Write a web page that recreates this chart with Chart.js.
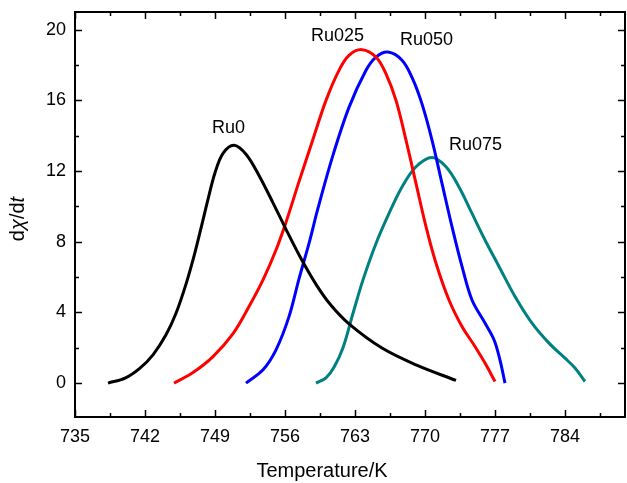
<!DOCTYPE html>
<html>
<head>
<meta charset="utf-8">
<script src="https://cdn.jsdelivr.net/npm/chart.js@4.4.0/dist/chart.umd.min.js"></script>
<style>
  html, body { margin: 0; padding: 0; background: #fff; }
  #wrap { width: 627px; height: 483px; }
</style>
</head>
<body>
<div id="wrap"><canvas id="dtgChart" width="627" height="483"></canvas></div>
<script>
// temperatures (K) and dχ/dt values
const ru0T = [738.3, 740, 741.5, 742.8, 744.1, 745.1, 746.1, 747, 747.7, 748.3, 749, 749.8, 750.9, 752.1, 753.4, 754.8, 756.1, 757.6, 759.2, 760.6, 762.4, 765.7, 769.1, 773.1];
const ru0V = [0, 0.28, 0.85, 1.6, 2.73, 3.95, 5.6, 7.4, 9.0, 10.4, 11.9, 13.0, 13.46, 12.95, 11.75, 10.2, 8.7, 7.05, 5.5, 4.4, 3.35, 1.98, 1.03, 0.15];

const ru025T = [744.9, 746.8, 748.8, 750.8, 752.4, 753.8, 755.1, 756.1, 757.4, 758.8, 760.1, 761.4, 762.4, 763.7, 765.1, 766.1, 767.1, 768.1, 769.1, 770.1, 771.1, 772.4, 773.7, 775, 776, 777];
const ru025V = [0, 0.6, 1.5, 2.8, 4.33, 5.84, 7.53, 9.1, 11.4, 13.8, 16.0, 17.7, 18.55, 18.87, 18.45, 17.5, 16.0, 13.75, 11.3, 8.85, 6.78, 4.7, 3.2, 2.07, 1.13, 0.09];

const ru050T = [752.1, 753.8, 755.1, 756.4, 757.4, 758.4, 759.3, 760.8, 762.4, 764.1, 765.1, 766.3, 767.7, 768.7, 769.7, 770.7, 771.7, 772.7, 773.7, 774.7, 776, 776.9, 777.5, 778];
const ru050V = [0, 0.75, 1.88, 3.76, 5.9, 7.9, 9.9, 12.9, 15.6, 17.7, 18.45, 18.73, 18.27, 17.3, 15.8, 13.75, 11.3, 8.85, 6.6, 4.7, 3.4, 2.45, 1.3, 0];

const ru075T = [759.1, 760.1, 760.9, 761.8, 762.8, 763.8, 765.1, 766.4, 767.7, 769.1, 770.7, 772.1, 773.4, 774.7, 776, 777.4, 779, 780.7, 782.4, 784, 785, 786];
const ru075V = [0, 0.3, 0.9, 2.0, 3.95, 5.84, 7.9, 9.6, 11.1, 12.24, 12.77, 12.24, 11.1, 9.6, 8.1, 6.6, 4.9, 3.39, 2.26, 1.41, 0.85, 0.09];

const seriesNames = ['Ru0', 'Ru025', 'Ru050', 'Ru075'];
const seriesColors = ['#000000', '#ff0000', '#0000ff', '#008080'];

// curve labels, placed in data units
const labelX = [750.35, 761.25, 770.15, 775.05];
const labelY = [14.42, 19.62, 19.44, 13.46];

// axis ticks
const xTicks = [735, 742, 749, 756, 763, 770, 777, 784];
const yTicks = [0, 4, 8, 12, 16, 20];

const FONT = '"Liberation Sans", Arial, Helvetica, sans-serif';

function toPoints(xs, ys) {
    return xs.map((x, i) => ({ x: x, y: ys[i] }));
}

const allSeries = [[ru0T, ru0V], [ru025T, ru025V], [ru050T, ru050V], [ru075T, ru075V]];

const datasets = allSeries.map((s, i) => ({
    label: seriesNames[i],
    data: toPoints(s[0], s[1]),
    borderColor: seriesColors[i],
    backgroundColor: seriesColors[i],
    borderWidth: 3,
    pointRadius: 0,
    tension: 0.35,
    fill: false,
    clip: false
}));

// frame, inward ticks on all sides, curve labels and axis titles
const framePlugin = {
    id: 'frame',
    afterDraw(chart) {
        const ctx = chart.ctx;
        const a = chart.chartArea;
        const xs = chart.scales.x;
        const ys = chart.scales.y;
        ctx.save();
        ctx.strokeStyle = '#000';
        ctx.lineWidth = 2;
        ctx.strokeRect(a.left, a.top, a.right - a.left, a.bottom - a.top);

        ctx.lineWidth = 1.5;
        ctx.beginPath();
        for (let v = 735; v <= 790; v += 3.5) {
            const px = Math.round(xs.getPixelForValue(v)) + 0.5;
            const len = (Math.abs((v - 735) % 7) < 0.01) ? 7 : 4;
            ctx.moveTo(px, a.bottom); ctx.lineTo(px, a.bottom - len);
            ctx.moveTo(px, a.top); ctx.lineTo(px, a.top + len);
        }
        for (let v = 0; v <= 20; v += 2) {
            const py = Math.round(ys.getPixelForValue(v)) + 0.5;
            const len = (v % 4 === 0) ? 7 : 4;
            ctx.moveTo(a.left, py); ctx.lineTo(a.left + len, py);
            ctx.moveTo(a.right, py); ctx.lineTo(a.right - len, py);
        }
        ctx.stroke();

        ctx.fillStyle = '#000';
        ctx.font = '18px ' + FONT;
        ctx.textAlign = 'center';
        ctx.textBaseline = 'middle';
        seriesNames.forEach((name, i) => {
            ctx.fillText(name, xs.getPixelForValue(labelX[i]), ys.getPixelForValue(labelY[i]));
        });

        // x title
        ctx.font = '20px ' + FONT;
        ctx.fillText('Temperature/K', 322, 471);

        // y title, rotated, with italic χ and t
        const parts = [['d', false], ['\u03C7', true], ['/d', false], ['t', true]];
        let total = 0;
        parts.forEach(p => {
            ctx.font = (p[1] ? 'italic ' : '') + '20px ' + FONT;
            total += ctx.measureText(p[0]).width;
        });
        ctx.translate(18, 219);
        ctx.rotate(-Math.PI / 2);
        ctx.textAlign = 'left';
        let cx = -total / 2;
        parts.forEach(p => {
            ctx.font = (p[1] ? 'italic ' : '') + '20px ' + FONT;
            ctx.fillText(p[0], cx, 0);
            cx += ctx.measureText(p[0]).width;
        });
        ctx.restore();
    }
};

new Chart(document.getElementById('dtgChart'), {
    type: 'line',
    data: { datasets },
    options: {
        responsive: false,
        animation: false,
        layout: { padding: { top: 12, right: 2, left: 0, bottom: 0 } },
        plugins: { legend: { display: false }, tooltip: { enabled: false } },
        scales: {
            x: {
                type: 'linear',
                min: 735,
                max: 790,
                grid: { display: false, drawTicks: false },
                border: { display: false },
                afterBuildTicks: scale => { scale.ticks = xTicks.map(v => ({ value: v })); },
                afterFit: scale => { scale.height = 66; scale.paddingLeft = 0; scale.paddingRight = 0; },
                ticks: { padding: 9, color: '#000', font: { size: 18, family: FONT }, maxRotation: 0 }
            },
            y: {
                min: -1.92,
                max: 21,
                grid: { display: false, drawTicks: false },
                border: { display: false },
                afterBuildTicks: scale => { scale.ticks = yTicks.map(v => ({ value: v })); },
                afterFit: scale => { scale.width = 75; scale.paddingTop = 0; scale.paddingBottom = 0; },
                ticks: { padding: 9, color: '#000', font: { size: 18, family: FONT } }
            }
        }
    },
    plugins: [framePlugin]
});
</script>
</body>
</html>
